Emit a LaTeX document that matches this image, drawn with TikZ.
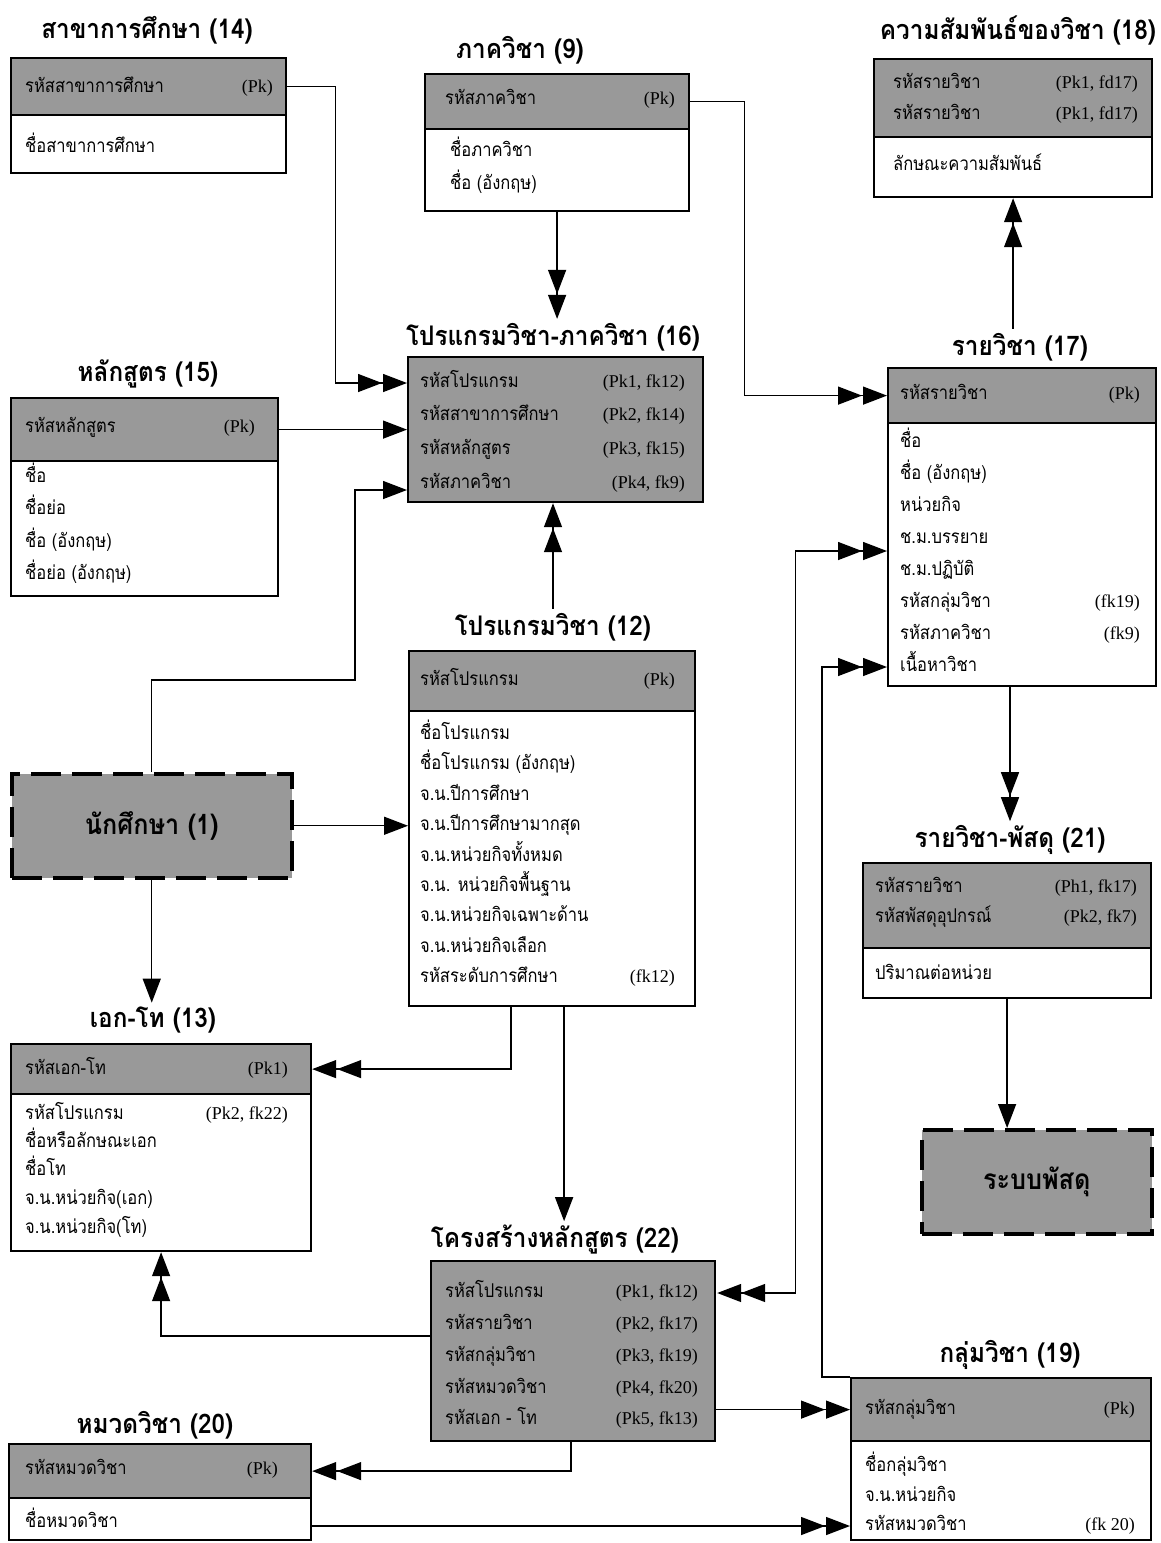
\documentclass[tikz,border=0pt]{standalone}
\usepackage{fontspec}
\setmainfont[Script=Thai]{Loma}
\newfontfamily\rowfont[Script=Thai,FakeStretch=0.87]{Loma}
\newfontfamily\ttlfont[Script=Thai,FakeStretch=0.9]{Loma}
\newfontfamily\keyfont{Liberation Serif}
\usetikzlibrary{arrows.meta}
\definecolor{hdrgray}{gray}{0.6}

\begin{document}
\begin{tikzpicture}[x=1pt,y=-1pt,
  box/.style={draw, line width=2.2pt, anchor=north west, inner sep=0pt},
  hdr/.style={box, fill=hdrgray},
  bdy/.style={box, fill=white},
  ext/.style={draw, line width=3.5pt, dash pattern=on 30pt off 11pt, fill=hdrgray, anchor=north west, inner sep=0pt, font=\ttlfont\bfseries\fontsize{28}{32}\selectfont},
  ttl/.style={font=\ttlfont\bfseries\fontsize{27}{32}\selectfont, inner sep=4pt},
  attr/.style={anchor=west, inner sep=0pt, text height=14pt, text depth=5pt, font=\rowfont\fontsize{19}{22}\selectfont},
  key/.style={anchor=east, inner sep=0pt, text height=14pt, text depth=5pt, font=\keyfont\fontsize{18}{22}\selectfont},
  link/.style={line width=1.4pt},
  one/.style={link, -{Triangle[length=24pt,width=18pt]}},
  two/.style={link, -{Triangle[length=24pt,width=18pt,sep=1pt] Triangle[length=24pt,width=18pt]}},
  both/.style={link, {Triangle[length=24pt,width=18pt,sep=1pt] Triangle[length=24pt,width=18pt]}-{Triangle[length=24pt,width=18pt,sep=1pt] Triangle[length=24pt,width=18pt]}}
]
\useasboundingbox (0,0) rectangle (1161,1543);

% สาขาการศึกษา
\node[ttl] (t14) at (147,30) {สาขาการศึกษา (14)};
\node[hdr, minimum width=275pt, minimum height=57pt] (h14) at (10,57) {};
\node[bdy, minimum width=275pt, minimum height=58pt] (b14) at (10,114) {};
\node[attr] (r14a) at (25,88) {รหัสสาขาการศึกษา};
\node[key] (k14a) at (273,88) {(Pk)};
\node[attr] (r14b) at (25,148) {ชื่อสาขาการศึกษา};

% ภาควิชา
\node[ttl] (t9) at (520,50) {ภาควิชา (9)};
\node[hdr, minimum width=264pt, minimum height=55pt] (h9) at (424,73) {};
\node[bdy, minimum width=264pt, minimum height=82pt] (b9) at (424,128) {};
\node[attr] (r9a) at (445,100) {รหัสภาควิชา};
\node[key] (k9a) at (675,100) {(Pk)};
\node[attr] (r9b) at (450,152) {ชื่อภาควิชา};
\node[attr] (r9c) at (450,185) {ชื่อ (อังกฤษ)};

% ความสัมพันธ์ของวิชา
\node[ttl] (t18) at (1018,30) {ความสัมพันธ์ของวิชา (18)};
\node[hdr, minimum width=278pt, minimum height=78pt] (h18) at (873,58) {};
\node[bdy, minimum width=278pt, minimum height=60pt] (b18) at (873,136) {};
\node[attr] (r18a) at (893,84) {รหัสรายวิชา};
\node[key] (k18a) at (1138,84) {(Pk1, fd17)};
\node[attr] (r18b) at (893,115) {รหัสรายวิชา};
\node[key] (k18b) at (1138,115) {(Pk1, fd17)};
\node[attr] (r18c) at (893,166) {ลักษณะความสัมพันธ์};

% โปรแกรมวิชา-ภาควิชา
\node[ttl] (t16) at (553,337) {โปรแกรมวิชา-ภาควิชา (16)};
\node[hdr, minimum width=295pt, minimum height=145pt] (h16) at (407,356) {};
\node[attr] (r16a) at (420,383) {รหัสโปรแกรม};
\node[key] (k16a) at (685,383) {(Pk1, fk12)};
\node[attr] (r16b) at (420,416) {รหัสสาขาการศึกษา};
\node[key] (k16b) at (685,416) {(Pk2, fk14)};
\node[attr] (r16c) at (420,450) {รหัสหลักสูตร};
\node[key] (k16c) at (685,450) {(Pk3, fk15)};
\node[attr] (r16d) at (420,484) {รหัสภาควิชา};
\node[key] (k16d) at (685,484) {(Pk4, fk9)};

% หลักสูตร
\node[ttl] (t15) at (148,374) {หลักสูตร (15)};
\node[hdr, minimum width=267pt, minimum height=63pt] (h15) at (10,397) {};
\node[bdy, minimum width=267pt, minimum height=135pt] (b15) at (10,460) {};
\node[attr] (r15a) at (25,428) {รหัสหลักสูตร};
\node[key] (k15a) at (255,428) {(Pk)};
\node[attr] (r15b) at (25,478) {ชื่อ};
\node[attr] (r15c) at (25,510) {ชื่อย่อ};
\node[attr] (r15d) at (25,543) {ชื่อ (อังกฤษ)};
\node[attr] (r15e) at (25,575) {ชื่อย่อ (อังกฤษ)};

% รายวิชา
\node[ttl] (t17) at (1020,347) {รายวิชา (17)};
\node[hdr, minimum width=268pt, minimum height=55pt] (h17) at (887,367) {};
\node[bdy, minimum width=268pt, minimum height=263pt] (b17) at (887,422) {};
\node[attr] (r17a) at (900,395) {รหัสรายวิชา};
\node[key] (k17a) at (1140,395) {(Pk)};
\node[attr] (r17b) at (900,443) {ชื่อ};
\node[attr] (r17c) at (900,475) {ชื่อ (อังกฤษ)};
\node[attr] (r17d) at (900,507) {หน่วยกิจ};
\node[attr] (r17e) at (900,539) {ช.ม.บรรยาย};
\node[attr] (r17f) at (900,571) {ช.ม.ปฏิบัติ};
\node[attr] (r17g) at (900,603) {รหัสกลุ่มวิชา};
\node[key] (k17g) at (1140,603) {(fk19)};
\node[attr] (r17h) at (900,635) {รหัสภาควิชา};
\node[key] (k17h) at (1140,635) {(fk9)};
\node[attr] (r17i) at (900,667) {เนื้อหาวิชา};

% โปรแกรมวิชา
\node[ttl] (t12) at (553,627) {โปรแกรมวิชา (12)};
\node[hdr, minimum width=286pt, minimum height=60pt] (h12) at (408,650) {};
\node[bdy, minimum width=286pt, minimum height=295pt] (b12) at (408,710) {};
\node[attr] (r12a) at (420,681) {รหัสโปรแกรม};
\node[key] (k12a) at (675,681) {(Pk)};
\node[attr] (r12b) at (420,735) {ชื่อโปรแกรม};
\node[attr] (r12c) at (420,765) {ชื่อโปรแกรม (อังกฤษ)};
\node[attr] (r12d) at (420,796) {จ.น.ปีการศึกษา};
\node[attr] (r12e) at (420,826) {จ.น.ปีการศึกษามากสุด};
\node[attr] (r12f) at (420,857) {จ.น.หน่วยกิจทั้งหมด};
\node[attr] (r12g) at (420,887) {จ.น. หน่วยกิจพื้นฐาน};
\node[attr] (r12h) at (420,917) {จ.น.หน่วยกิจเฉพาะด้าน};
\node[attr] (r12i) at (420,948) {จ.น.หน่วยกิจเลือก};
\node[attr] (r12j) at (420,978) {รหัสระดับการศึกษา};
\node[key] (k12j) at (675,978) {(fk12)};

% นักศึกษา
\node[ext, minimum width=280pt, minimum height=104pt] (s1) at (10,772) {นักศึกษา (1)};

% เอก-โท
\node[ttl] (t13) at (153,1020) {เอก-โท (13)};
\node[hdr, minimum width=300pt, minimum height=50pt] (h13) at (10,1043) {};
\node[bdy, minimum width=300pt, minimum height=157pt] (b13) at (10,1093) {};
\node[attr] (r13a) at (25,1070) {รหัสเอก-โท};
\node[key] (k13a) at (288,1070) {(Pk1)};
\node[attr] (r13b) at (25,1115) {รหัสโปรแกรม};
\node[key] (k13b) at (288,1115) {(Pk2, fk22)};
\node[attr] (r13c) at (25,1143) {ชื่อหรือลักษณะเอก};
\node[attr] (r13d) at (25,1171) {ชื่อโท};
\node[attr] (r13e) at (25,1200) {จ.น.หน่วยกิจ(เอก)};
\node[attr] (r13f) at (25,1229) {จ.น.หน่วยกิจ(โท)};

% รายวิชา-พัสดุ
\node[ttl] (t21) at (1010,840) {รายวิชา-พัสดุ (21)};
\node[hdr, minimum width=288pt, minimum height=85pt] (h21) at (862,862) {};
\node[bdy, minimum width=288pt, minimum height=50pt] (b21) at (862,947) {};
\node[attr] (r21a) at (875,888) {รหัสรายวิชา};
\node[key] (k21a) at (1137,888) {(Ph1, fk17)};
\node[attr] (r21b) at (875,918) {รหัสพัสดุอุปกรณ์};
\node[key] (k21b) at (1137,918) {(Pk2, fk7)};
\node[attr] (r21c) at (875,975) {ปริมาณต่อหน่วย};

% ระบบพัสดุ
\node[ext, minimum width=230pt, minimum height=104pt] (x2) at (920,1128) {ระบบพัสดุ};

% โครงสร้างหลักสูตร
\node[ttl] (t22) at (555,1240) {โครงสร้างหลักสูตร (22)};
\node[hdr, minimum width=284pt, minimum height=180pt] (h22) at (430,1260) {};
\node[attr] (r22a) at (445,1293) {รหัสโปรแกรม};
\node[key] (k22a) at (698,1293) {(Pk1, fk12)};
\node[attr] (r22b) at (445,1325) {รหัสรายวิชา};
\node[key] (k22b) at (698,1325) {(Pk2, fk17)};
\node[attr] (r22c) at (445,1357) {รหัสกลุ่มวิชา};
\node[key] (k22c) at (698,1357) {(Pk3, fk19)};
\node[attr] (r22d) at (445,1389) {รหัสหมวดวิชา};
\node[key] (k22d) at (698,1389) {(Pk4, fk20)};
\node[attr] (r22e) at (445,1420) {รหัสเอก - โท};
\node[key] (k22e) at (698,1420) {(Pk5, fk13)};

% กลุ่มวิชา
\node[ttl] (t19) at (1010,1355) {กลุ่มวิชา (19)};
\node[hdr, minimum width=300pt, minimum height=63pt] (h19) at (850,1377) {};
\node[bdy, minimum width=300pt, minimum height=99pt] (b19) at (850,1440) {};
\node[attr] (r19a) at (865,1410) {รหัสกลุ่มวิชา};
\node[key] (k19a) at (1135,1410) {(Pk)};
\node[attr] (r19b) at (865,1467) {ชื่อกลุ่มวิชา};
\node[attr] (r19c) at (865,1497) {จ.น.หน่วยกิจ};
\node[attr] (r19d) at (865,1526) {รหัสหมวดวิชา};
\node[key] (k19d) at (1135,1526) {(fk 20)};

% หมวดวิชา
\node[ttl] (t20) at (155,1425) {หมวดวิชา (20)};
\node[hdr, minimum width=302pt, minimum height=54pt] (h20) at (8,1443) {};
\node[bdy, minimum width=302pt, minimum height=42pt] (b20) at (8,1497) {};
\node[attr] (r20a) at (25,1470) {รหัสหมวดวิชา};
\node[key] (k20a) at (278,1470) {(Pk)};
\node[attr] (r20b) at (25,1523) {ชื่อหมวดวิชา};

% connectors
\draw[two] (h14.east) -- ++(48,0) |- (h16.west |- r16a);
\draw[one] (h15.east) -- (h15.east -| h16.west);
\draw[one] (s1.north) |- (355,680) |- ([yshift=-6pt]h16.west |- r16d);
\draw[two] (h9.east) -- ++(54,0) |- (h17.west);
\draw[two] (b9.south) -- (b9.south |- t16.north);
\draw[two] (t12.north) -- (t12.north |- h16.south);
\draw[two] (b18.south |- t17.north) -- (b18.south);
\draw[two] (t21.north |- b17.south) -- (t21.north);
\draw[one] (b21.south) -- (b21.south |- x2.north);
\draw[one] (s1.east) -- (s1.east -| b12.west);
\draw[one] (s1.south) -- (s1.south |- t13.north);
\draw[two] ([xshift=-41pt]b12.south) |- (h13.east);
\draw[one] ([xshift=12pt]b12.south) -- ([xshift=12pt]b12.south |- t22.north);
\draw[two] ([yshift=15pt]h22.west) -| (b13.south);
\draw[two] ([xshift=-2pt]h22.south) |- (h20.east);
\draw[two] (h19.west -| h22.east) -- (h19.west);
\draw[both] (r22a -| h22.east) -- ++(79,0) |- ([yshift=-12pt]b17.west |- r17e);
\draw[two] (h19.north west) -- ++(-28,0) |- (b17.west |- r17i);
\draw[two] (r19d -| b20.east) -- (r19d -| b19.west);
\end{tikzpicture}
\end{document}
